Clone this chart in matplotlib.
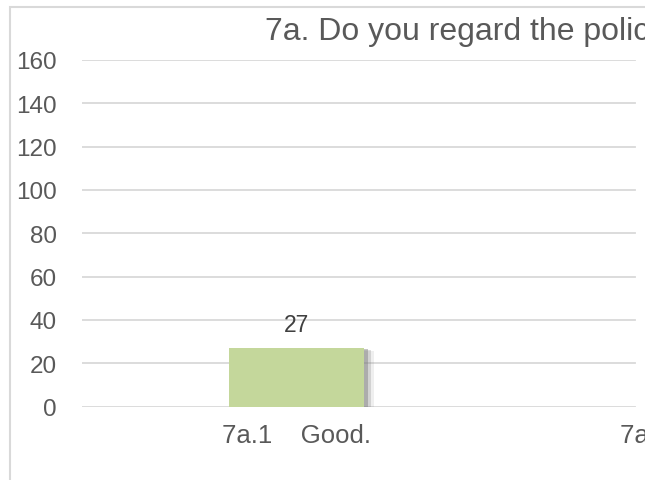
import matplotlib.pyplot as plt
import matplotlib.patheffects as pe
from matplotlib.patches import Rectangle

plt.rcParams['font.family'] = ['Liberation Sans', 'DejaVu Sans']

title = "7a. Do you regard the policy as good or bad?"
categories = ["7a.1    Good.", "7a.2    Acceptable."]
values = [27, 0]
yticks = [0, 20, 40, 60, 80, 100, 120, 140, 160]

text_col = '#595959'
grid_col = '#d9d9d9'
bar_col = '#c4d79b'

W, H = 645, 481
fig = plt.figure(figsize=(W / 100, H / 100), dpi=100)

# chart border (only left + top visible in the crop)
fig.patches.append(Rectangle((10 / W, -0.1), 2.0, 1.1 - 8 / H, transform=fig.transFigure,
                             fill=False, edgecolor=grid_col, linewidth=1.5))

# plot area runs past the right edge of the picture
left, right, bottom, top = 82, 940, 407.5, 61
ax = fig.add_axes([left / W, 1 - bottom / H, (right - left) / W, (bottom - top) / H])

# soft shadow: a few offset copies getting lighter
shadow = [pe.SimplePatchShadow(offset=(o, -o / 3), shadow_rgbFace='#7f7f7f', alpha=a)
          for o, a in [(7, 0.12), (5, 0.25), (3, 0.45)]]

x = list(range(len(categories)))
ax.bar(x[:1], values[:1], width=0.315, color=bar_col, zorder=3,
       path_effects=shadow + [pe.Normal()])
for xi, v in zip(x[:1], values[:1]):
    ax.annotate(str(v), (xi, v), xytext=(0, 9), textcoords='offset points',
                ha='center', va='bottom', fontsize=16.5, color='#404040')

ax.set_xlim(-0.5, len(categories) - 0.5)
ax.set_ylim(0, 160)
ax.set_yticks(yticks)
ax.set_xticks(x)
ax.set_xticklabels(categories)

# gridlines stop short of the crop edge
gx = (635 - left) / (right - left)
for t in yticks:
    ax.axhline(t, xmin=0, xmax=gx, color=grid_col, linewidth=1.3, zorder=1)

for s in ax.spines.values():
    s.set_visible(False)
ax.tick_params(axis='both', length=0, labelcolor=text_col)
ax.tick_params(axis='y', pad=18, labelsize=17.5)
ax.tick_params(axis='x', pad=12, labelsize=18.5)

fig.text(265 / W, 1 - 32 / H, title, ha='left', va='center', fontsize=23, color=text_col)

fig.savefig('out.png', dpi=100)
